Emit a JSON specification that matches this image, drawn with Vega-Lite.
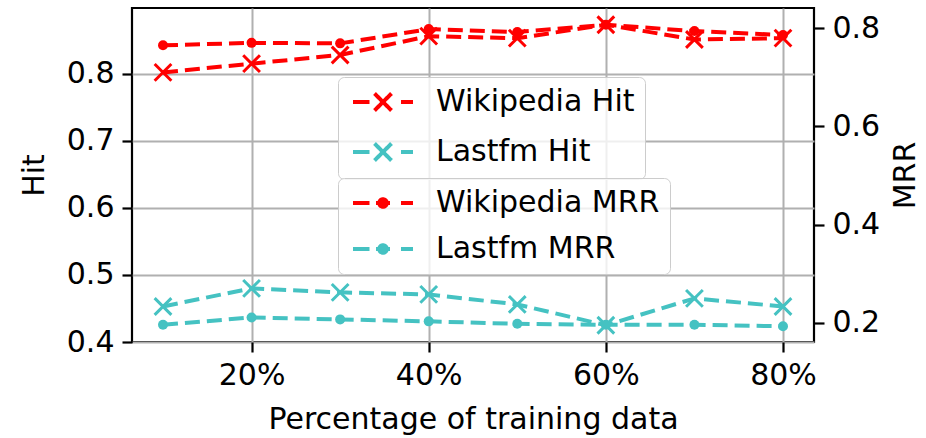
{
  "$schema": "https://vega.github.io/schema/vega-lite/v6.json",
  "autosize": {"type": "none"},
  "padding": {"left": 132, "top": 8, "right": 112, "bottom": 96},
  "width": 682,
  "height": 334,
  "background": "white",
  "config": {
    "font": "DejaVu Sans",
    "view": {"stroke": "black", "strokeWidth": 2.2},
    "axis": {
      "labelFont": "DejaVu Sans",
      "titleFont": "DejaVu Sans",
      "labelFontSize": 30,
      "titleFontSize": 30,
      "labelColor": "#000000",
      "titleColor": "#000000",
      "titleFontWeight": "normal",
      "tickColor": "#000000",
      "tickSize": 10,
      "tickWidth": 2.2,
      "domain": false,
      "gridColor": "#b0b0b0",
      "gridWidth": 2,
      "labelPadding": 8
    },
    "legend": {
      "labelFont": "DejaVu Sans",
      "labelFontSize": 30,
      "labelColor": "#000000",
      "labelLimit": 500
    }
  },
  "datasets": {
    "hit": [
      {"pct": 10, "series": "Wikipedia Hit", "value": 0.802},
      {"pct": 20, "series": "Wikipedia Hit", "value": 0.815},
      {"pct": 30, "series": "Wikipedia Hit", "value": 0.828},
      {"pct": 40, "series": "Wikipedia Hit", "value": 0.856},
      {"pct": 50, "series": "Wikipedia Hit", "value": 0.853},
      {"pct": 60, "series": "Wikipedia Hit", "value": 0.873},
      {"pct": 70, "series": "Wikipedia Hit", "value": 0.851},
      {"pct": 80, "series": "Wikipedia Hit", "value": 0.853},
      {"pct": 10, "series": "Lastfm Hit", "value": 0.453},
      {"pct": 20, "series": "Lastfm Hit", "value": 0.480},
      {"pct": 30, "series": "Lastfm Hit", "value": 0.474},
      {"pct": 40, "series": "Lastfm Hit", "value": 0.471},
      {"pct": 50, "series": "Lastfm Hit", "value": 0.456},
      {"pct": 60, "series": "Lastfm Hit", "value": 0.425},
      {"pct": 70, "series": "Lastfm Hit", "value": 0.465},
      {"pct": 80, "series": "Lastfm Hit", "value": 0.453}
    ],
    "mrr": [
      {"pct": 10, "series": "Wikipedia MRR", "value": 0.765},
      {"pct": 20, "series": "Wikipedia MRR", "value": 0.770},
      {"pct": 30, "series": "Wikipedia MRR", "value": 0.769},
      {"pct": 40, "series": "Wikipedia MRR", "value": 0.798},
      {"pct": 50, "series": "Wikipedia MRR", "value": 0.792},
      {"pct": 60, "series": "Wikipedia MRR", "value": 0.807},
      {"pct": 70, "series": "Wikipedia MRR", "value": 0.794},
      {"pct": 80, "series": "Wikipedia MRR", "value": 0.786},
      {"pct": 10, "series": "Lastfm MRR", "value": 0.196},
      {"pct": 20, "series": "Lastfm MRR", "value": 0.211},
      {"pct": 30, "series": "Lastfm MRR", "value": 0.207},
      {"pct": 40, "series": "Lastfm MRR", "value": 0.203},
      {"pct": 50, "series": "Lastfm MRR", "value": 0.198},
      {"pct": 60, "series": "Lastfm MRR", "value": 0.196},
      {"pct": 70, "series": "Lastfm MRR", "value": 0.196},
      {"pct": 80, "series": "Lastfm MRR", "value": 0.193}
    ]
  },
  "layer": [
    {
      "data": {"name": "hit"},
      "encoding": {
        "x": {
          "field": "pct", "type": "quantitative",
          "scale": {"domain": [6.5, 83.5], "nice": false, "zero": false},
          "axis": {"values": [20, 40, 60, 80], "labelExpr": "datum.value + '%'", "grid": true, "title": "Percentage of training data", "titlePadding": 14}
        },
        "y": {
          "field": "value", "type": "quantitative",
          "scale": {"domain": [0.4, 0.898], "nice": false, "zero": false},
          "axis": {"values": [0.4, 0.5, 0.6, 0.7, 0.8], "format": ".1f", "grid": true, "title": "Hit", "titlePadding": 17}
        },
        "stroke": {
          "field": "series", "type": "nominal",
          "scale": {"domain": ["Wikipedia Hit", "Lastfm Hit"], "range": ["#ff0000", "#45c2c2"]},
          "legend": {
            "orient": "none", "legendX": 206, "legendY": 69,
            "title": null,
            "symbolType": "M-3,0H-1.35M-0.85,-0.85L0.85,0.85M-0.85,0.85L0.85,-0.85M1.8,0H3",
            "symbolSize": 400,
            "symbolStrokeWidth": 4,
            "symbolDash": [1, 0],
            "symbolOffset": 20,
            "labelOffset": 38,
            "padding": 10,
            "rowPadding": 16,
            "fillColor": "rgba(255,255,255,0.8)",
            "strokeColor": "#cccccc",
            "cornerRadius": 6,
            "encode": {"entries": {"update": {"width": {"value": 328}, "fill": {"value": "transparent"}}}}
          }
        }
      },
      "layer": [
        {"mark": {"type": "line", "strokeWidth": 4, "strokeDash": [15, 7]}},
        {"mark": {"type": "point", "shape": "M-1,-1L1,1M-1,1L1,-1", "filled": false, "size": 280, "strokeWidth": 3, "opacity": 1}}
      ]
    },
    {
      "data": {"name": "mrr"},
      "encoding": {
        "x": {"field": "pct", "type": "quantitative", "scale": {"domain": [6.5, 83.5], "nice": false, "zero": false}},
        "y": {
          "field": "value", "type": "quantitative",
          "scale": {"domain": [0.161, 0.841], "nice": false, "zero": false},
          "axis": {"orient": "right", "values": [0.2, 0.4, 0.6, 0.8], "format": ".1f", "grid": false, "title": "MRR", "titlePadding": 11, "titleAngle": 270, "titleBaseline": "top"}
        }
      },
      "layer": [
        {
          "mark": {"type": "line", "strokeWidth": 4, "strokeDash": [15, 7]},
          "encoding": {
            "stroke": {
              "field": "series", "type": "nominal",
              "scale": {"domain": ["Wikipedia MRR", "Lastfm MRR"], "range": ["#ff0000", "#45c2c2"]},
              "legend": {
                "orient": "none", "legendX": 206, "legendY": 170,
                "title": null,
                "symbolType": "M-3,0H-1.35M-0.7,0H0.7M1.8,0H3M-0.38,0A0.38,0.38 0 1,0 0.38,0A0.38,0.38 0 1,0 -0.38,0ZM-0.1,0A0.1,0.1 0 1,0 0.1,0A0.1,0.1 0 1,0 -0.1,0Z",
                "symbolSize": 400,
                "symbolStrokeWidth": 4,
                "symbolDash": [1, 0],
                "symbolOffset": 20,
                "labelOffset": 38,
                "padding": 10,
                "rowPadding": 16,
                "fillColor": "rgba(255,255,255,0.8)",
                "strokeColor": "#cccccc",
                "cornerRadius": 6,
                "encode": {"entries": {"update": {"width": {"value": 328}, "fill": {"value": "transparent"}}}}
              }
            }
          }
        },
        {
          "mark": {"type": "point", "shape": "circle", "filled": true, "size": 100, "opacity": 1},
          "encoding": {
            "color": {
              "field": "series", "type": "nominal",
              "scale": {"domain": ["Wikipedia MRR", "Lastfm MRR"], "range": ["#ff0000", "#45c2c2"]},
              "legend": null
            }
          }
        }
      ]
    }
  ],
  "resolve": {"scale": {"y": "independent", "stroke": "independent", "color": "independent"}, "legend": {"stroke": "independent"}}
}
